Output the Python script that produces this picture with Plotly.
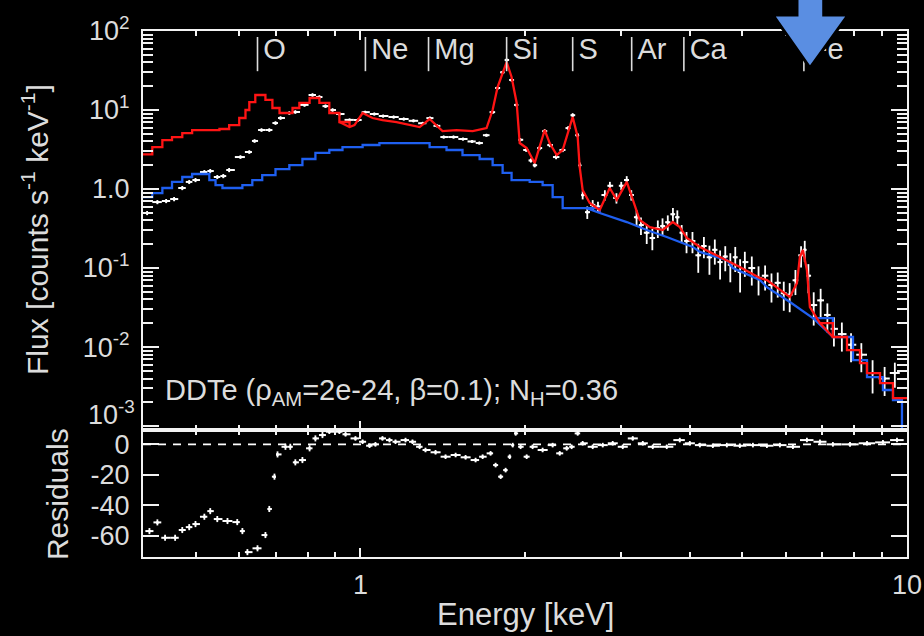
import numpy as np
import plotly.graph_objects as go

# ---------------- data ----------------
# total model (red curve): energy [keV], flux
model_E = [0.400, 0.416, 0.434, 0.452, 0.472, 0.492, 0.552, 0.575, 0.600, 0.616,
           0.626, 0.642, 0.670, 0.690, 0.711, 0.729, 0.751, 0.773, 0.807, 0.841,
           0.877, 0.915, 0.955, 0.975, 1.009, 1.052, 1.097, 1.164, 1.229, 1.283,
           1.338, 1.378, 1.413, 1.499, 1.604, 1.701, 1.745, 1.782, 1.851, 1.890,
           1.931, 1.956, 2.014, 2.083, 2.127, 2.173, 2.219, 2.286, 2.344, 2.415,
           2.445, 2.497, 2.518, 2.550, 2.627, 2.740, 2.858, 2.944, 3.071, 3.243,
           3.384, 3.573, 3.728, 3.839, 3.955, 4.178, 4.545, 4.944, 5.380, 5.541,
           6.106, 6.289, 6.368, 6.449, 6.559, 6.643, 6.929, 7.318, 7.766, 8.203,
           8.449, 8.925, 9.427, 10.0]
model_F = [2.75, 3.40, 4.17, 4.55, 5.11, 5.58, 5.75, 6.45, 7.92, 10.0,
           12.6, 15.5, 13.4, 10.6, 9.17, 9.17, 10.6, 12.3, 14.2, 12.3,
           9.17, 7.05, 6.09, 6.45, 9.17, 7.92, 7.47, 7.05, 6.45, 6.09,
           7.69, 6.45, 5.42, 5.58, 5.42, 5.92, 10.0, 19.5, 40.5, 26.2,
           12.3, 3.82, 3.31, 2.13, 3.40, 5.58, 3.82, 2.69, 3.12, 6.09,
           8.15, 4.55, 1.90, 0.97, 0.665, 0.542, 1.03, 0.73, 1.23, 0.405,
           0.330, 0.303, 0.382, 0.330, 0.240, 0.185, 0.138, 0.103, 0.0747, 0.0705,
           0.0429, 0.0645, 0.138, 0.169, 0.0944, 0.0321, 0.0201, 0.0134, 0.00916, 0.00627,
           0.00469, 0.00350, 0.00226, 0.00226]

# continuum component (blue curve)
cont_E = [0.400, 0.416, 0.434, 0.452, 0.472, 0.492, 0.514, 0.529, 0.543, 0.559,
          0.583, 0.608, 0.634, 0.661, 0.699, 0.741, 0.783, 0.827, 0.877, 0.927,
          1.009, 1.083, 1.245, 1.338, 1.437, 1.537, 1.652, 1.745, 1.820, 1.890,
          2.040, 2.154, 2.247, 2.344, 2.594, 2.740, 3.071, 3.341, 3.634, 4.056,
          4.178, 4.681, 4.801, 5.380, 5.541, 6.106, 6.727, 7.318, 7.965, 8.449,
          9.036, 9.427, 9.790, 10.0]
cont_F = [0.79, 0.89, 1.03, 1.23, 1.42, 1.55, 1.55, 1.30, 1.12, 1.03,
          1.03, 1.12, 1.30, 1.50, 1.79, 2.01, 2.40, 2.86, 3.12, 3.40,
          3.61, 3.82, 3.82, 3.40, 3.12, 2.69, 2.40, 2.01, 1.60, 1.30,
          1.23, 1.12, 0.79, 0.574, 0.574, 0.497, 0.382, 0.303, 0.247, 0.185,
          0.160, 0.126, 0.100, 0.0705, 0.0574, 0.0371, 0.0233, 0.0134, 0.00684, 0.00417,
          0.00286, 0.00213, 0.00085, 0.00085]

# observed spectrum (white crosses)
data_E = [0.407, 0.425, 0.441, 0.456, 0.472, 0.486, 0.499, 0.518, 0.531, 0.547,
          0.561, 0.575, 0.603, 0.626, 0.640, 0.659, 0.681, 0.699, 0.714, 0.741,
          0.760, 0.790, 0.817, 0.841, 0.863, 0.889, 0.915,
          0.955, 0.990, 1.020, 1.060, 1.100, 1.150, 1.200, 1.250, 1.300, 1.340,
          1.380, 1.420, 1.480, 1.540, 1.600, 1.650, 1.700, 1.745, 1.782, 1.820,
          1.851, 1.890, 1.930, 1.960, 2.010, 2.050, 2.083, 2.127, 2.173, 2.220,
          2.280, 2.344, 2.400, 2.445, 2.497, 2.520, 2.550,
          2.60, 2.66, 2.72, 2.80, 2.86, 2.94, 3.00, 3.07, 3.13, 3.20,
          3.26, 3.34, 3.42, 3.50, 3.57, 3.65, 3.73, 3.80, 3.87, 3.95,
          4.05, 4.15, 4.25, 4.35, 4.45, 4.55, 4.65, 4.75, 4.85, 4.95,
          5.05, 5.20, 5.35, 5.50, 5.65, 5.80, 5.95, 6.10, 6.25, 6.40,
          6.50, 6.60, 6.75, 6.95, 7.15, 7.35, 7.60, 7.90, 8.25, 8.65,
          9.10, 9.50]
data_F = [0.497, 0.684, 0.705, 0.747, 1.03, 1.23, 1.30, 1.64, 1.69, 1.42,
          1.46, 1.74, 2.54, 2.94, 4.06, 5.58, 5.58, 6.84, 7.92, 9.17,
          9.44, 11.6, 15.5, 14.6, 11.2, 10.0, 8.9,
          7.5, 7.47, 9.4, 8.9, 8.4, 8.15, 7.7, 7.3, 6.8, 7.9,
          6.3, 4.55, 4.55, 4.3, 4.0, 3.82, 4.8, 9.4, 19.0, 30.0,
          43.0, 24.0, 11.6, 4.2, 3.12, 2.3, 2.0, 3.3, 5.4, 3.6,
          2.54, 3.12, 5.9, 8.6, 4.8, 2.0, 0.84,
          0.51, 0.63, 0.60, 0.84, 1.1, 0.77, 1.1, 1.3, 0.84, 0.44,
          0.35, 0.28, 0.24, 0.32, 0.34, 0.38, 0.48, 0.44, 0.28, 0.22,
          0.22, 0.145, 0.19, 0.137, 0.17, 0.119, 0.14, 0.11, 0.137, 0.089,
          0.119, 0.10, 0.075, 0.08, 0.061, 0.065, 0.048, 0.046, 0.070, 0.145,
          0.17, 0.08, 0.034, 0.039, 0.0255, 0.017, 0.0146, 0.0107, 0.0080, 0.0047,
          0.0040, 0.0047]
data_relerr = [0.06, 0.06, 0.06, 0.06, 0.06, 0.06, 0.06, 0.06, 0.06, 0.06,
               0.06, 0.06, 0.05, 0.05, 0.05, 0.05, 0.05, 0.05, 0.05, 0.05,
               0.05, 0.05, 0.05, 0.05, 0.05, 0.05, 0.05,
               0.04, 0.04, 0.04, 0.04, 0.04, 0.04, 0.04, 0.04, 0.04, 0.04,
               0.04, 0.04, 0.04, 0.04, 0.04, 0.04, 0.04, 0.04, 0.04, 0.04,
               0.04, 0.04, 0.04, 0.05, 0.05, 0.06, 0.06, 0.06, 0.06, 0.06,
               0.06, 0.06, 0.06, 0.06, 0.06, 0.08, 0.12,
               0.18, 0.15, 0.15, 0.15, 0.12, 0.15, 0.12, 0.12, 0.15, 0.22,
               0.25, 0.28, 0.30, 0.25, 0.25, 0.22, 0.20, 0.22, 0.25, 0.30,
               0.30, 0.40, 0.30, 0.40, 0.35, 0.40, 0.35, 0.40, 0.35, 0.45,
               0.35, 0.40, 0.40, 0.35, 0.40, 0.35, 0.40, 0.40, 0.35, 0.30,
               0.30, 0.40, 0.45, 0.40, 0.40, 0.40, 0.40, 0.40, 0.40, 0.45,
               0.40, 0.35]

# residuals
res_E = [0.411, 0.425, 0.439, 0.458, 0.472, 0.486, 0.499, 0.518, 0.531, 0.547,
         0.571, 0.595, 0.608, 0.621, 0.648, 0.670, 0.681, 0.696, 0.705, 0.729,
         0.744, 0.760, 0.783, 0.807, 0.827, 0.852,
         0.877, 0.915, 0.939, 0.979, 1.009, 1.039, 1.065, 1.097, 1.130, 1.159,
         1.209, 1.245, 1.283, 1.315, 1.372, 1.431, 1.493, 1.557, 1.624, 1.673,
         1.730, 1.767, 1.805, 1.843, 1.875, 1.899, 1.923, 1.963, 2.014, 2.065,
         2.154, 2.247, 2.315, 2.384, 2.434, 2.497, 2.550, 2.660, 2.775, 2.894,
         3.019, 3.149, 3.285, 3.426, 3.634, 3.839, 4.005, 4.178, 4.413, 4.681,
         4.944, 5.224, 5.541, 5.853, 6.184, 6.559, 6.929, 7.318, 7.865, 8.449,
         9.036, 9.587]
res_R = [-56.9, -51.2, -61.3, -61.3, -56.2, -54.3, -52.3, -47.5, -43.8, -49.0,
         -50.3, -51.0, -56.9, -70.7, -68.2, -59.5, -42.4, -21.2, -6.6, -1.6,
         -1.6, -11.8, -10.3, -2.6, 3.9, 6.1,
         8.3, 8.3, 6.6, 3.9, 1.7, -0.9, 0.0, 3.9, 2.8, 1.7,
         2.8, 1.7, -1.6, -3.7, -5.2, -8.1, -7.0, -8.5, -10.3, -8.1,
         -5.9, -13.6, -21.2, -16.9, -8.1, -0.5, 7.2, -1.6, -8.1, -1.6,
         -3.7, -0.5, -5.9, -2.6, -1.6, 7.2, 0.7, -1.6, -0.5, 0.7,
         -1.6, 3.9, 0.7, -1.6, -1.6, 2.8, 0.7, -0.5, -0.9, -0.5,
         -0.9, -0.5, -0.9, -0.5, -1.6, 2.8, 1.7, 0.0, 0.0, 0.7,
         1.3, 2.8]
res_err = [2.0, 2.0, 2.0, 2.0, 2.0, 2.0, 2.0, 2.0, 2.0, 2.0,
           2.0, 2.0, 2.0, 2.0, 2.0, 2.0, 2.0, 2.0, 2.0, 2.0,
           2.0, 2.0, 2.0, 2.0, 2.0, 2.0,
           1.5, 1.5, 1.5, 1.5, 1.5, 1.5, 1.5, 1.5, 1.5, 1.5,
           1.5, 1.5, 1.5, 1.5, 1.5, 1.5, 1.5, 1.5, 1.5, 1.5,
           1.5, 1.5, 1.5, 1.5, 1.5, 1.5, 1.5, 1.5, 1.5, 1.5,
           1.5, 1.5, 1.5, 1.5, 1.5, 1.5, 1.5, 1.5, 1.5, 1.5,
           1.5, 1.5, 1.5, 1.5, 1.5, 1.5, 1.5, 1.5, 1.5, 1.5,
           1.5, 1.5, 1.5, 1.5, 1.5, 1.5, 1.5, 1.5, 1.5, 1.5,
           1.5, 1.5]

# emission line markers
elements = ["O", "Ne", "Mg", "Si", "S", "Ar", "Ca", "Fe"]
element_E = [0.648, 1.021, 1.332, 1.851, 2.445, 3.135, 3.906, 6.476]

flux_tickvals = [1e-3, 1e-2, 1e-1, 1, 10, 100]
# the 10^-3 label is drawn separately (raised above the panel corner, as in the original)
flux_ticktext = ["", "10<sup>-2</sup>", "10<sup>-1</sup>", "1.0",
                 "10<sup>1</sup>", "10<sup>2</sup>"]
flux_bottom_label = "10<sup>-3</sup>"
res_tickvals = [0, -20, -40, -60]
res_ticktext = ["0", "-20", "-40", "-60"]
energy_tickvals = [1, 10]
energy_ticktext = ["1", "10"]

# ---------------- figure ----------------
FONT = "Liberation Sans, Arial, Helvetica, sans-serif"
TXT = "#dcdcdc"
AX = "#f2f2f2"


def half_gaps(e):
    e = np.asarray(e, dtype=float)
    d = np.diff(e)
    right = np.append(d, d[-1]) / 2.0
    left = np.insert(d, 0, d[0]) / 2.0
    return right, left


def segmented(E, F, pieces, color):
    """Split one curve into consecutive energy ranges drawn as steps or lines."""
    E = np.asarray(E, dtype=float)
    F = np.asarray(F, dtype=float)
    out = []
    for lo, hi, shape in pieces:
        i0 = int(np.searchsorted(E, lo, side="left"))
        i1 = int(np.searchsorted(E, hi, side="left"))
        i0 = max(i0 - 1, 0) if lo > E[0] else 0
        sl = slice(i0, min(i1 + 1, len(E)))
        out.append(go.Scatter(x=E[sl], y=F[sl], mode="lines",
                              line=dict(color=color, width=2.3, shape=shape),
                              xaxis="x", yaxis="y", showlegend=False, hoverinfo="skip"))
    return out


dR, dL = half_gaps(data_E)
rR, rL = half_gaps(res_E)
dF = np.asarray(data_F) * np.asarray(data_relerr)

fig = go.Figure()

fig.add_trace(go.Scatter(
    x=data_E, y=data_F, mode="markers",
    marker=dict(size=3, color="white"),
    error_x=dict(type="data", array=dR, arrayminus=dL, color="white", thickness=2.0, width=0),
    error_y=dict(type="data", array=dF, color="white", thickness=1.8, width=0),
    xaxis="x", yaxis="y", showlegend=False, hoverinfo="skip"))

for tr in segmented(cont_E, cont_F,
                    [(0.0, 2.6, "hv"), (2.6, 7.3, "linear"), (7.3, 11.0, "hv")], "#1f5ff0"):
    fig.add_trace(tr)
for tr in segmented(model_E, model_F,
                    [(0.0, 0.955, "hv"), (0.955, 7.3, "linear"), (7.3, 11.0, "hv")], "#ff1414"):
    fig.add_trace(tr)

# element marker bars and labels
bar_x, bar_y = [], []
for e in element_E:
    bar_x += [e, e, None]
    bar_y += [31.0, 84.0, None]
fig.add_trace(go.Scatter(
    x=bar_x, y=bar_y, mode="lines", line=dict(color=TXT, width=1.6),
    xaxis="x", yaxis="y", showlegend=False, hoverinfo="skip"))
fig.add_trace(go.Scatter(
    x=element_E, y=[54.0] * len(element_E), mode="text",
    text=["\u2009" + s for s in elements],
    textposition="middle right", textfont=dict(family=FONT, size=29, color=TXT),
    xaxis="x", yaxis="y", showlegend=False, hoverinfo="skip"))

# residuals
fig.add_trace(go.Scatter(
    x=res_E, y=res_R, mode="markers",
    marker=dict(size=3, color="white"),
    error_x=dict(type="data", array=rR, arrayminus=rL, color="white", thickness=2.0, width=0),
    error_y=dict(type="data", array=res_err, color="white", thickness=1.8, width=0),
    xaxis="x2", yaxis="y2", showlegend=False, hoverinfo="skip"))

x_minor = [0.5, 0.6, 0.7, 0.8, 0.9, 2, 3, 4, 5, 6, 7, 8, 9]
y_minor = [m * 10.0 ** k for k in range(-3, 2) for m in range(2, 10)]

common_x = dict(
    type="log", range=[np.log10(0.4), 1.0], domain=[0, 1], automargin=False,
    tickvals=energy_tickvals, ticktext=energy_ticktext,
    ticks="inside", ticklen=9, tickwidth=1.6, tickcolor=AX,
    minor=dict(tickvals=x_minor, ticks="inside", ticklen=5, tickwidth=1.6, tickcolor=AX),
    showline=True, linecolor=AX, linewidth=2, mirror="allticks",
    showgrid=False, zeroline=False,
    tickfont=dict(family=FONT, size=27, color=TXT),
)

fig.update_layout(
    width=924, height=636,
    margin=dict(l=143, r=17, t=31, b=79, autoexpand=False),
    paper_bgcolor="black", plot_bgcolor="black",
    font=dict(family=FONT, color=TXT),
    xaxis=dict(common_x, anchor="y", showticklabels=False),
    xaxis2=dict(common_x, anchor="y2", ticklabelstandoff=3),
    yaxis=dict(
        type="log", range=[-3.05, 2.0], domain=[0.2414, 1.0], anchor="x", automargin=False,
        tickvals=flux_tickvals, ticktext=flux_ticktext,
        ticks="inside", ticklen=16, tickwidth=1.6, tickcolor=AX,
        minor=dict(tickvals=y_minor, ticks="inside", ticklen=10, tickwidth=1.6, tickcolor=AX),
        showline=True, linecolor=AX, linewidth=2, mirror="allticks",
        showgrid=False, zeroline=False, ticklabelstandoff=6,
        tickfont=dict(family=FONT, size=27, color=TXT),
    ),
    yaxis2=dict(
        range=[-73.9, 9.4], domain=[0, 0.2414], anchor="x2", automargin=False,
        tickvals=res_tickvals, ticktext=res_ticktext,
        ticks="inside", ticklen=16, tickwidth=1.6, tickcolor=AX,
        showline=True, linecolor=AX, linewidth=2, mirror="allticks",
        showgrid=False, zeroline=False, ticklabelstandoff=6,
        tickfont=dict(family=FONT, size=27, color=TXT),
    ),
)

# zero line in residual panel
fig.add_shape(type="line", xref="x2 domain", yref="y2", x0=0, x1=1, y0=0, y1=0,
              line=dict(color="white", width=1.6, dash="8px,7px"))

# big blue arrow pointing at Fe line
fig.add_shape(type="path", xref="paper", yref="paper", layer="above",
              path="M 0.856,1.08 L 0.891,1.08 L 0.891,1.0304 L 0.9228,1.0304 "
                   "L 0.873,0.9297 L 0.8246,1.0304 L 0.856,1.0304 Z",
              fillcolor="#5a8ee2", line=dict(color="black", width=3))

# texts
fig.add_annotation(xref="paper", yref="paper", x=-0.0079, y=0.2738, xanchor="right", yanchor="middle",
                   text=flux_bottom_label, showarrow=False,
                   font=dict(family=FONT, size=27, color=TXT))
fig.add_annotation(xref="paper", yref="paper", x=0.026, y=0.314, xanchor="left", yanchor="middle",
                   text="DDTe (ρ<sub>AM</sub>=2e-24, β=0.1); N<sub>H</sub>=0.36",
                   showarrow=False, font=dict(family=FONT, size=29, color=TXT))
fig.add_annotation(xref="paper", yref="paper", x=0.5, y=-0.110, xanchor="center", yanchor="middle",
                   text="Energy [keV]", showarrow=False, font=dict(family=FONT, size=31, color=TXT))
fig.add_annotation(xref="paper", yref="paper", x=-0.1414, y=0.6236, xanchor="center", yanchor="middle",
                   text="Flux [counts s<sup>-1</sup> keV<sup>-1</sup>]", textangle=-90,
                   showarrow=False, font=dict(family=FONT, size=30, color=TXT))
fig.add_annotation(xref="paper", yref="paper", x=-0.111, y=0.12, xanchor="center", yanchor="middle",
                   text="Residuals", textangle=-90,
                   showarrow=False, font=dict(family=FONT, size=30, color=TXT))

fig.write_html("out.html")
